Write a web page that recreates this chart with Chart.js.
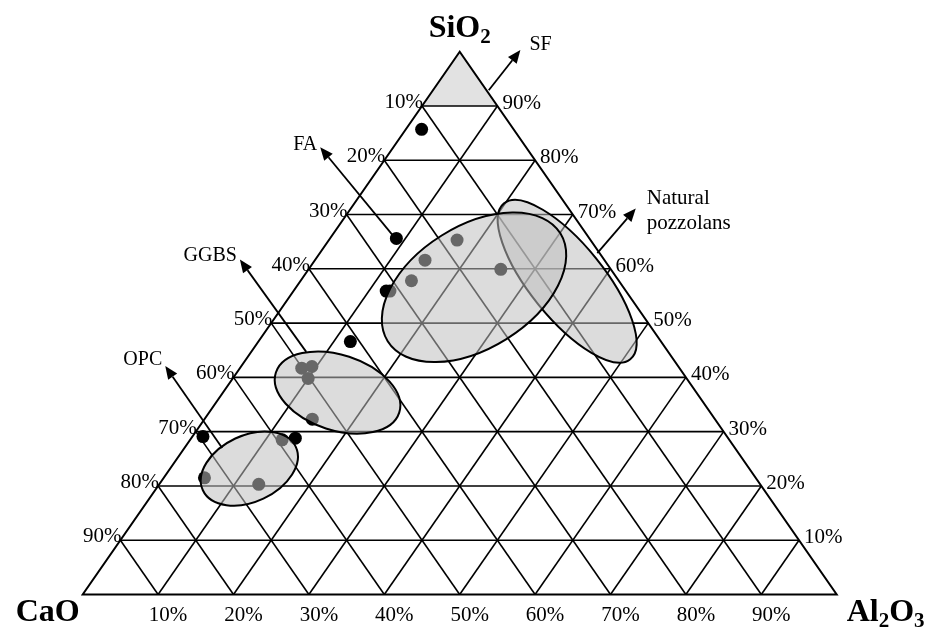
<!DOCTYPE html>
<html>
<head>
<meta charset="utf-8">
<script src="https://cdn.jsdelivr.net/npm/chart.js@4.4.1/dist/chart.umd.min.js"></script>
<style>
  html, body { margin: 0; padding: 0; background: #ffffff; overflow: hidden; }
  canvas { display: block; }
</style>
</head>
<body>
<canvas id="c" width="929" height="631"></canvas>
<script>
// Oxide composition of each plotted material, wt % (CaO is the balance to 100 %)
const sio2  = [85.7, 65.6, 65.3, 61.6, 57.8, 59.9, 55.9, 55.9, 46.6, 41.7, 42.0, 39.8, 32.3, 28.5, 28.8, 29.1, 21.5, 20.3];
const al2o3 = [ 2.1,  8.8, 17.0, 14.6, 14.7, 25.5, 12.3, 12.8, 12.2,  8.2,  9.4, 10.0, 14.3, 12.2, 13.8,  1.4,  5.4, 13.2];
const cao   = sio2.map((s, i) => +(100 - s - al2o3[i]).toFixed(1));

// Grid levels and their tick labels
const gridLevels = [10, 20, 30, 40, 50, 60, 70, 80, 90];
const tickText   = ['10%', '20%', '30%', '40%', '50%', '60%', '70%', '80%', '90%'];

// Typical composition fields of each material group (centre as SiO2 / Al2O3 %)
const fieldNames = ['Natural pozzolans', 'FA', 'GGBS', 'OPC'];
const fieldSiO2  = [57.7, 56.6, 37.2, 23.2];
const fieldAl2O3 = [35.4, 23.6, 15.2, 10.5];
const fieldMajor = [13.3, 13.5, 8.6, 6.8];   // semi-axes in % units
const fieldMinor = [4.9, 8.1, 5.0, 4.4];
const fieldTilt  = [51, -32, 18, -25];       // degrees

// Trend arrows: label, start and tip as [SiO2, Al2O3]
const arrowNames = ['SF', 'FA', 'GGBS', 'OPC', 'Natural pozzolans'];
const arrowFrom  = [[92.9, 7.4], [66.2, 8.0], [44.7, 7.3], [27.0, 5.0], [62.9, 36.8]];
const arrowTo    = [[100.3, 7.9], [82.4, -9.7], [61.7, -10.0], [42.1, -10.1], [71.1, 37.8]];

// Ternary (SiO2, Al2O3) -> plane coordinates; SiO2 apex at top, Al2O3 bottom right
const tern = (si, al) => ({ x: al + si / 2, y: si });

const SERIF = '"Liberation Serif", "Times New Roman", Times, serif';

const ternaryPlugin = {
  id: 'ternary',
  beforeDatasetsDraw(chart) {
    const { ctx, scales: { x, y } } = chart;
    const P = (si, al) => { const t = tern(si, al); return [x.getPixelForValue(t.x), y.getPixelForValue(t.y)]; };
    ctx.save();
    // silica fume field above 90 % SiO2
    const a = P(100, 0), l = P(90, 0), r = P(90, 10);
    ctx.beginPath(); ctx.moveTo(a[0], a[1]); ctx.lineTo(l[0], l[1]); ctx.lineTo(r[0], r[1]); ctx.closePath();
    ctx.fillStyle = '#e2e2e2'; ctx.fill();

    const seg = (p, q) => { ctx.beginPath(); ctx.moveTo(p[0], p[1]); ctx.lineTo(q[0], q[1]); ctx.stroke(); };
    ctx.strokeStyle = '#000'; ctx.lineWidth = 1.6; ctx.lineCap = 'butt';
    gridLevels.forEach(v => {
      seg(P(v, 0), P(v, 100 - v));          // constant SiO2
      seg(P(0, v), P(100 - v, v));          // constant Al2O3
      seg(P(0, 100 - v), P(100 - v, 0));    // constant CaO
    });
    // outer triangle
    const A = P(100, 0), C = P(0, 0), B = P(0, 100);
    ctx.lineWidth = 2; ctx.lineJoin = 'miter';
    ctx.beginPath(); ctx.moveTo(A[0], A[1]); ctx.lineTo(C[0], C[1]); ctx.lineTo(B[0], B[1]); ctx.closePath(); ctx.stroke();
    ctx.restore();
  },
  afterDatasetsDraw(chart) {
    const { ctx, scales: { x, y } } = chart;
    const P = (si, al) => { const t = tern(si, al); return [x.getPixelForValue(t.x), y.getPixelForValue(t.y)]; };
    const unit = x.getPixelForValue(1) - x.getPixelForValue(0);
    ctx.save();

    // composition fields
    fieldNames.forEach((n, i) => {
      const c = P(fieldSiO2[i], fieldAl2O3[i]);
      ctx.beginPath();
      ctx.ellipse(c[0], c[1], fieldMajor[i] * unit, fieldMinor[i] * unit, fieldTilt[i] * Math.PI / 180, 0, Math.PI * 2);
      ctx.fillStyle = 'rgba(190,190,190,0.54)';
      ctx.fill();
      ctx.lineWidth = 2; ctx.strokeStyle = '#000';
      ctx.stroke();
    });

    // arrows
    const tips = [];
    arrowNames.forEach((n, i) => {
      const s = P(arrowFrom[i][0], arrowFrom[i][1]);
      const t = P(arrowTo[i][0], arrowTo[i][1]);
      const ang = Math.atan2(t[1] - s[1], t[0] - s[0]);
      const hl = 13, hw = 5.5;
      const bx = t[0] - hl * Math.cos(ang), by = t[1] - hl * Math.sin(ang);
      ctx.lineWidth = 1.8; ctx.strokeStyle = '#000';
      ctx.beginPath(); ctx.moveTo(s[0], s[1]); ctx.lineTo(bx, by); ctx.stroke();
      ctx.beginPath();
      ctx.moveTo(t[0], t[1]);
      ctx.lineTo(bx + hw * Math.sin(ang), by - hw * Math.cos(ang));
      ctx.lineTo(bx - hw * Math.sin(ang), by + hw * Math.cos(ang));
      ctx.closePath(); ctx.fillStyle = '#000'; ctx.fill();
      tips.push(t);
    });
    ctx.fillStyle = '#000';
    ctx.font = '20px ' + SERIF;
    ctx.textBaseline = 'alphabetic';
    // SF
    ctx.textAlign = 'left';  ctx.fillText(arrowNames[0], tips[0][0] + 9, tips[0][1]);
    // FA, GGBS, OPC
    ctx.textAlign = 'right';
    ctx.fillText(arrowNames[1], tips[1][0] - 3, tips[1][1] + 3);
    ctx.fillText(arrowNames[2], tips[2][0] - 3, tips[2][1] + 1);
    ctx.fillText(arrowNames[3], tips[3][0] - 3, tips[3][1] - 1);
    // Natural pozzolans (two lines)
    ctx.textAlign = 'left';
    ctx.font = '21px ' + SERIF;
    const np = arrowNames[4].split(' ');
    ctx.fillText(np[0], tips[4][0] + 11, tips[4][1] - 5);
    ctx.fillText(np[1], tips[4][0] + 11, tips[4][1] + 20);

    // tick labels
    ctx.font = '21px ' + SERIF;
    gridLevels.forEach((v, i) => {
      // CaO along the left edge
      const lp = P(100 - v, 0);
      ctx.textAlign = 'right'; ctx.fillText(tickText[i], lp[0] + 1, lp[1] + 2);
      // SiO2 along the right edge
      const rp = P(v, 100 - v);
      ctx.textAlign = 'left'; ctx.fillText(tickText[i], rp[0] + 5, rp[1] + 3);
      // Al2O3 along the base
      const bp = P(0, v);
      ctx.textAlign = 'center'; ctx.fillText(tickText[i], bp[0] + 10, bp[1] + 26);
    });

    // vertex names with subscripts
    const formula = (parts, px, py, align) => {
      const big = 'bold 32px ' + SERIF, small = 'bold 21px ' + SERIF;
      let w = 0;
      parts.forEach(p => { ctx.font = p[1] ? small : big; w += ctx.measureText(p[0]).width; });
      let cx = align === 'center' ? px - w / 2 : align === 'right' ? px - w : px;
      ctx.textAlign = 'left';
      parts.forEach(p => {
        ctx.font = p[1] ? small : big;
        ctx.fillText(p[0], cx, py + (p[1] ? 6 : 0));
        cx += ctx.measureText(p[0]).width;
      });
    };
    const top = P(100, 0), left = P(0, 0), right = P(0, 100);
    formula([['SiO', 0], ['2', 1]], top[0], top[1] - 15, 'center');
    formula([['CaO', 0]], left[0] - 3, left[1] + 26, 'right');
    formula([['Al', 0], ['2', 1], ['O', 0], ['3', 1]], right[0] + 10, right[1] + 26, 'left');
    ctx.restore();
  }
};

new Chart(document.getElementById('c'), {
  type: 'scatter',
  data: {
    datasets: [{
      label: 'Materials',
      data: sio2.map((s, i) => tern(s, al2o3[i])),
      backgroundColor: '#000',
      borderWidth: 0,
      pointRadius: 6.5,
      pointHoverRadius: 6.5,
      clip: false
    }]
  },
  options: {
    responsive: false,
    animation: false,
    events: [],
    layout: { padding: { left: 82.7, right: 92.3, top: 51.7, bottom: 36.5 } },
    plugins: { legend: { display: false }, tooltip: { enabled: false } },
    scales: {
      x: { type: 'linear', min: 0, max: 100, display: false },
      y: { type: 'linear', min: 0, max: 100, display: false }
    }
  },
  plugins: [ternaryPlugin]
});
</script>
</body>
</html>
